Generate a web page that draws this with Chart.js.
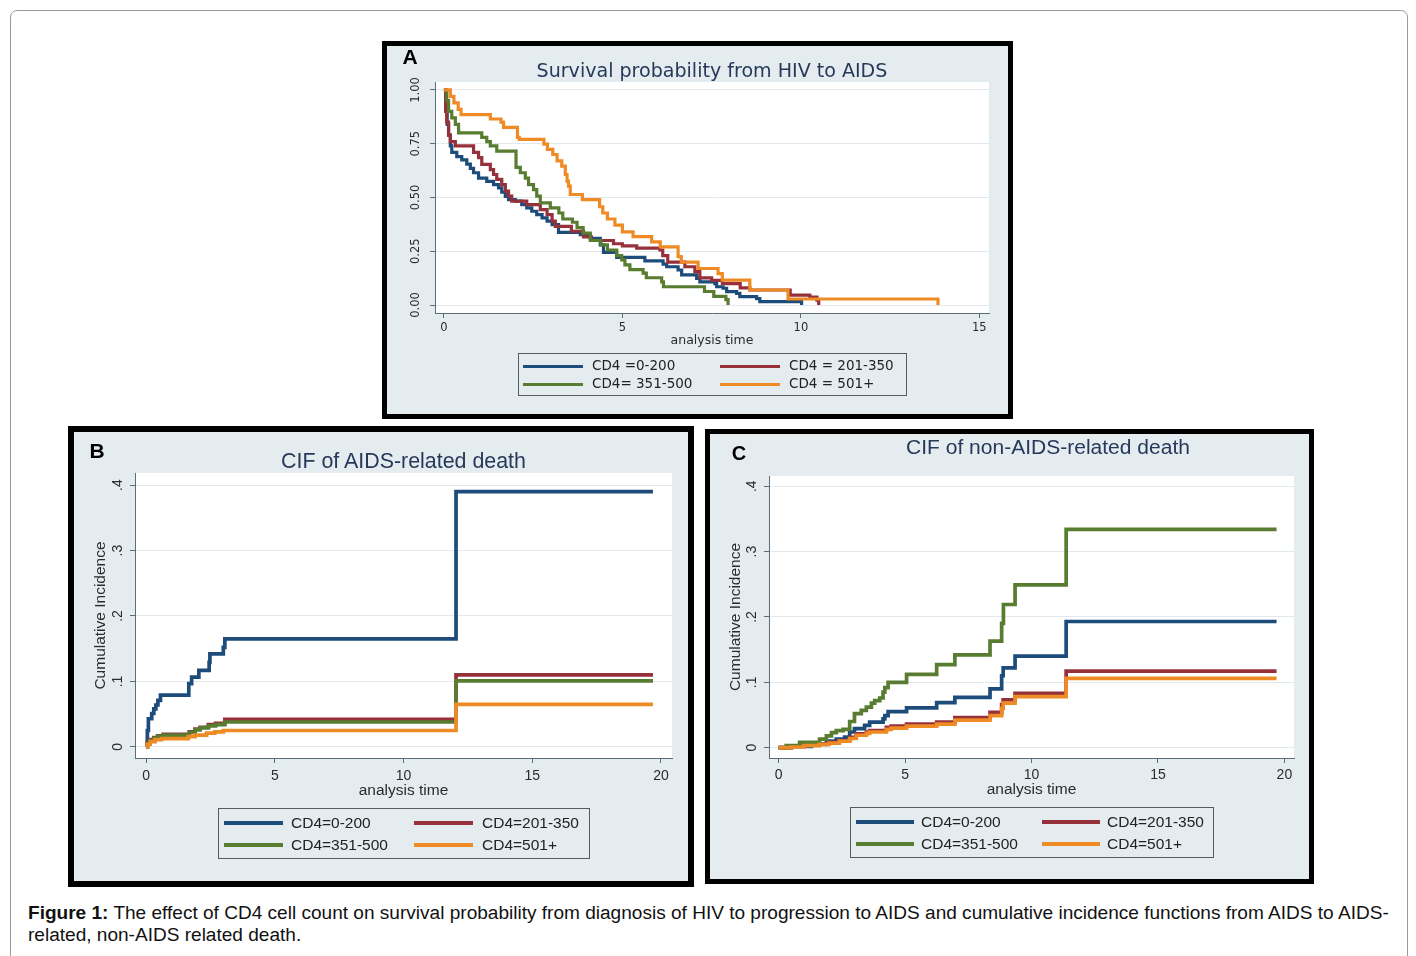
<!DOCTYPE html>
<html><head><meta charset="utf-8">
<script src="https://cdn.jsdelivr.net/npm/chart.js@4.4.1/dist/chart.umd.min.js"></script>
<style>
html,body{margin:0;padding:0;background:#fff;}
body{width:1416px;height:956px;overflow:hidden;position:relative;font-family:"Liberation Sans",Arial,sans-serif;}
.frame{position:absolute;left:10px;top:10px;width:1398px;height:970px;border:1px solid #9b9b9b;border-radius:7px;box-sizing:border-box;}
.panel{position:absolute;background:#e5ecf0;border:5px solid #000;box-sizing:border-box;}
.panel canvas{position:absolute;left:0;top:0;}
.abs{position:absolute;white-space:nowrap;}
.letter{font-weight:bold;color:#000;}
.ttl{color:#27395a;text-align:center;}
.leg{position:absolute;border:1px solid #5a5a5a;box-sizing:border-box;}
.cap{position:absolute;left:28px;top:902px;color:#111;font-size:17px;line-height:22px;white-space:nowrap;}
</style>
</head><body>
<div class="frame"></div>
<div id="pA" class="panel" style="left:382px;top:41px;width:631px;height:378px;"><canvas id="cA" width="621" height="368"></canvas></div>
<div id="pB" class="panel" style="left:68px;top:426px;width:626px;height:461px;border-width:6px;"><canvas id="cB" width="614" height="449"></canvas></div>
<div id="pC" class="panel" style="left:705px;top:429px;width:609px;height:455px;"><canvas id="cC" width="599" height="445"></canvas></div>
<div class="cap" id="cap"><span id="capl1"><b>Figure 1:</b> The effect of CD4 cell count on survival probability from diagnosis of HIV to progression to AIDS and cumulative incidence functions from AIDS to AIDS-</span><br>related, non-AIDS related death.</div>
<script>
// ---------------- DATA ----------------
const seriesLabelsA = ['CD4 =0-200', 'CD4 = 201-350', 'CD4= 351-500', 'CD4 = 501+'];
const seriesLabelsBC = ['CD4=0-200', 'CD4=201-350', 'CD4=351-500', 'CD4=501+'];

// Panel A: survival probability (Kaplan-Meier)
const aTime0200 = [0,0.05,0.09,0.13,0.18,0.22,0.36,0.5,0.64,0.74,0.83,0.97,1.2,1.39,1.53,1.62,1.72,1.81,2.0,2.18,2.32,2.46,2.6,2.75,2.89,3.03,3.21,3.82,4.1,4.38,4.47,4.84,5.63,6.14,6.24,6.56,6.66,7.08,7.17,7.59,7.64,7.82,7.92,8.2,8.29,8.76,8.85,10.02];
const aSurv0200 = [1,0.9,0.84,0.79,0.74,0.71,0.69,0.675,0.655,0.635,0.615,0.59,0.575,0.56,0.545,0.525,0.505,0.49,0.483,0.467,0.452,0.436,0.42,0.405,0.39,0.374,0.338,0.327,0.31,0.28,0.245,0.222,0.205,0.19,0.178,0.163,0.14,0.124,0.108,0.1,0.085,0.078,0.062,0.054,0.039,0.03,0.016,0];
const aTime201350 = [0,0.05,0.08,0.13,0.18,0.32,0.83,0.97,1.06,1.3,1.39,1.48,1.62,1.72,1.81,1.9,2.32,2.7,2.89,3.03,3.12,3.57,3.91,4.13,4.75,5.0,5.4,6.05,6.13,6.27,6.75,7.03,7.17,7.5,7.8,8.3,8.57,9.7,10.25,10.45,10.5];
const aSurv201350 = [1,0.9,0.85,0.79,0.76,0.74,0.71,0.685,0.654,0.63,0.607,0.584,0.56,0.53,0.506,0.483,0.467,0.444,0.42,0.39,0.366,0.343,0.317,0.30,0.285,0.275,0.265,0.256,0.23,0.2,0.178,0.155,0.126,0.115,0.1,0.08,0.07,0.046,0.037,0.023,0];
const aTime351500 = [0,0.08,0.13,0.22,0.32,0.41,1.06,1.2,1.3,1.48,2.02,2.14,2.28,2.37,2.51,2.6,2.7,2.98,3.22,3.33,3.6,3.73,3.9,4.1,4.4,4.58,4.84,4.98,5.07,5.21,5.58,5.67,6.1,6.15,7.3,7.56,7.9,7.96];
const aSurv351500 = [1,0.95,0.9,0.87,0.84,0.8,0.78,0.76,0.74,0.716,0.64,0.615,0.59,0.56,0.537,0.506,0.475,0.452,0.428,0.4,0.385,0.36,0.335,0.30,0.28,0.256,0.23,0.21,0.187,0.165,0.148,0.127,0.108,0.085,0.063,0.04,0.025,0];
const aTime501 = [0,0.18,0.28,0.4,0.48,1.3,1.6,1.67,2.06,2.11,2.8,2.9,3.05,3.17,3.3,3.4,3.45,3.49,3.54,3.88,4.36,4.45,4.58,4.79,5.0,5.3,5.82,6.06,6.56,6.65,7.12,7.68,7.8,8.57,9.64,13.84];
const aSurv501 = [1,0.97,0.94,0.91,0.885,0.865,0.85,0.826,0.78,0.77,0.748,0.724,0.70,0.67,0.646,0.607,0.576,0.553,0.514,0.49,0.457,0.428,0.40,0.372,0.34,0.318,0.294,0.27,0.225,0.2,0.17,0.146,0.116,0.07,0.028,0];

// Panel B: CIF of AIDS-related death
const bTime0200 = [0,0.05,0.09,0.22,0.3,0.38,0.46,0.56,1.66,1.77,2.05,2.45,2.48,3.0,3.06,12.04,19.69];
const bCif0200 = [0,0.025,0.043,0.051,0.058,0.064,0.071,0.079,0.0965,0.1065,0.117,0.129,0.142,0.152,0.165,0.39,0.39];
const bTime201350 = [0,0.05,0.15,0.3,0.45,0.67,1.68,1.9,2.1,2.42,2.7,3.06,12.04,19.69];
const bCif201350 = [0,0.006,0.011,0.014,0.017,0.019,0.023,0.027,0.03,0.034,0.036,0.042,0.11,0.11];
const bTime351500 = [0,0.05,0.15,0.3,0.45,0.67,1.68,1.9,2.1,2.42,2.7,3.06,12.04,19.69];
const bCif351500 = [0,0.005,0.01,0.013,0.016,0.018,0.022,0.026,0.029,0.032,0.034,0.038,0.101,0.101];
const bTime501 = [0,0.05,0.16,0.35,0.6,1.64,1.9,2.35,2.67,3.0,12.04,19.69];
const bCif501 = [0,0.004,0.008,0.011,0.0125,0.0157,0.018,0.021,0.023,0.025,0.065,0.065];

// Panel C: CIF of non-AIDS-related death
const cTime0200 = [0,0.5,1.3,1.89,2.28,2.61,2.81,3.0,3.4,3.6,4.13,4.2,4.33,5.06,6.25,6.97,8.36,8.82,8.88,9.35,11.37,19.69];
const cCif0200 = [0,0.002,0.005,0.01,0.013,0.016,0.024,0.029,0.034,0.039,0.044,0.049,0.055,0.061,0.069,0.077,0.09,0.11,0.122,0.14,0.193,0.193];
const cTime201350 = [0,0.5,1.0,1.6,2.0,2.4,2.81,3.07,3.47,3.6,4.26,4.45,5.06,6.25,6.97,8.36,8.82,8.88,9.35,11.37,19.69];
const cCif201350 = [0,0.002,0.004,0.006,0.008,0.011,0.0157,0.021,0.024,0.026,0.031,0.033,0.036,0.039,0.046,0.054,0.066,0.073,0.083,0.117,0.117];
const cTime351500 = [0,0.3,0.83,1.62,1.89,2.09,2.28,2.55,2.81,3.0,3.27,3.47,3.67,3.8,4.0,4.13,4.2,4.33,5.06,6.25,6.97,8.36,8.82,8.89,9.35,11.37,19.69];
const cCif351500 = [0,0.003,0.008,0.013,0.018,0.023,0.026,0.028,0.04,0.052,0.057,0.062,0.068,0.072,0.076,0.085,0.092,0.1,0.112,0.127,0.142,0.163,0.19,0.219,0.249,0.334,0.334];
const cTime501 = [0,0.5,1.0,1.6,2.0,2.4,2.81,3.07,3.47,3.6,4.26,4.45,5.06,6.25,6.97,8.36,8.82,8.88,9.35,11.37,19.69];
const cCif501 = [0,0.001,0.003,0.005,0.007,0.01,0.014,0.019,0.022,0.024,0.028,0.03,0.033,0.036,0.042,0.049,0.06,0.068,0.078,0.106,0.106];

// tick values
const xTicksA = [0, 5, 10, 15];
const yTicksA = [0, 0.25, 0.5, 0.75, 1];
const xTicksBC = [0, 5, 10, 15, 20];
const yTicksBC = [0, 0.1, 0.2, 0.3, 0.4];

// ---------------- STYLE ----------------
const colors = ['#1d4c7b', '#96303a', '#587c30', '#ee8b25'];
const axisCol = '#5e6b78';
const gridCol = '#e3e8ec';
const tickCol = '#2b2b2b';

function pts(t, v) { return t.map((x, i) => ({x: x, y: v[i]})); }
function measure(text, font) {
  const c = document.createElement('canvas').getContext('2d');
  c.font = font; return c.measureText(text).width;
}
const plotBg = {
  id: 'plotBg',
  beforeDraw(chart) {
    const {ctx, chartArea: a} = chart;
    ctx.save(); ctx.fillStyle = '#ffffff';
    ctx.fillRect(a.left, a.top, a.right - a.left, a.bottom - a.top);
    ctx.restore();
  }
};

function build(id, p) {
  const tf = p.tickSize + 'px "' + p.family + '"';
  const widest = Math.max(...p.yTicks.map(v => measure(p.yFmt(v), tf)));
  const yPad = p.yLabelOffset - 5 - widest / 2;
  const datasets = p.series.map((s, i) => ({
    label: s.label, data: pts(s.t, s.v), borderColor: colors[i], backgroundColor: colors[i],
    borderWidth: p.lw, pointRadius: 0, stepped: true, fill: false, order: 3 - i,
    borderCapStyle: 'butt', borderJoinStyle: 'miter'
  }));
  const yScale = {
    type: 'linear', bounds: 'data', min: p.yMin, max: p.yMax,
    afterBuildTicks: s => { s.ticks = p.yTicks.map(v => ({value: v})); },
    afterFit: s => { s.width = p.yW; },
    ticks: {font: {family: p.family, size: p.tickSize}, color: tickCol, padding: yPad,
      minRotation: 90, maxRotation: 90, crossAlign: 'center', autoSkip: false,
      callback: v => p.yFmt(v)},
    grid: {color: gridCol, tickColor: axisCol, tickLength: 5, lineWidth: 1},
    border: {display: true, color: axisCol, width: 1}
  };
  if (p.yTitle) {
    yScale.title = {display: true, text: p.yTitle, color: tickCol,
      font: {family: p.family, size: p.titleSize}, padding: {top: p.yTitlePad, bottom: 0}};
  }
  return new Chart(document.getElementById(id), {
    type: 'line',
    data: {datasets: datasets},
    options: {
      responsive: false, animation: false, events: [],
      layout: {padding: p.pad},
      plugins: {legend: {display: false}, title: {display: false}, tooltip: {enabled: false}},
      scales: {
        x: {
          type: 'linear', bounds: 'data', min: p.xMin, max: p.xMax,
          afterBuildTicks: s => { s.ticks = p.xTicks.map(v => ({value: v})); },
          afterFit: s => { s.height = p.xH; },
          ticks: {font: {family: p.family, size: p.tickSize}, color: tickCol, padding: p.xTickPad,
            maxRotation: 0, minRotation: 0, autoSkip: false, callback: v => String(v)},
          grid: {drawOnChartArea: false, tickLength: 5, tickColor: axisCol, lineWidth: 1},
          border: {display: true, color: axisCol, width: 1},
          title: {display: true, text: 'analysis time', color: tickCol,
            font: {family: p.family, size: p.titleSize}, padding: 0}
        },
        y: yScale
      }
    },
    plugins: [plotBg]
  });
}

build('cA', {
  family: 'DejaVu Sans', tickSize: 11.5, titleSize: 12.5, lw: 3.2,
  xMin: -0.25, xMax: 15.27, yMin: -0.037, yMax: 1.037,
  xTicks: xTicksA, yTicks: yTicksA, yFmt: v => v.toFixed(2),
  yW: 30, xH: 35, xTickPad: 3.1, yLabelOffset: 19,
  pad: {left: 18, right: 19, top: 36, bottom: 66},
  series: [
    {label: seriesLabelsA[0], t: aTime0200, v: aSurv0200},
    {label: seriesLabelsA[1], t: aTime201350, v: aSurv201350},
    {label: seriesLabelsA[2], t: aTime351500, v: aSurv351500},
    {label: seriesLabelsA[3], t: aTime501, v: aSurv501}
  ]
});
const fmtBC = v => v === 0 ? '0' : String(v).replace(/^0\./, '.');
build('cB', {
  family: 'Liberation Sans', tickSize: 14, titleSize: 15.5, lw: 3.7,
  xMin: -0.43, xMax: 20.43, yMin: -0.017, yMax: 0.4185,
  xTicks: xTicksBC, yTicks: yTicksBC, yFmt: fmtBC,
  yW: 45, xH: 42, xTickPad: 4.6, yLabelOffset: 17, yTitle: 'Cumulative Incidence', yTitlePad: 1.7,
  pad: {left: 16, right: 16, top: 41, bottom: 81},
  series: [
    {label: seriesLabelsBC[0], t: bTime0200, v: bCif0200},
    {label: seriesLabelsBC[1], t: bTime201350, v: bCif201350},
    {label: seriesLabelsBC[2], t: bTime351500, v: bCif351500},
    {label: seriesLabelsBC[3], t: bTime501, v: bCif501}
  ]
});
build('cC', {
  family: 'Liberation Sans', tickSize: 14, titleSize: 15.5, lw: 3.7,
  xMin: -0.38, xMax: 20.38, yMin: -0.0158, yMax: 0.4156,
  xTicks: xTicksBC, yTicks: yTicksBC, yFmt: fmtBC,
  yW: 45, xH: 41, xTickPad: 3.6, yLabelOffset: 17, yTitle: 'Cumulative Incidence', yTitlePad: 2.7,
  pad: {left: 14, right: 15, top: 42, bottom: 80},
  series: [
    {label: seriesLabelsBC[0], t: cTime0200, v: cCif0200},
    {label: seriesLabelsBC[1], t: cTime201350, v: cCif201350},
    {label: seriesLabelsBC[2], t: cTime351500, v: cCif351500},
    {label: seriesLabelsBC[3], t: cTime501, v: cCif501}
  ]
});

// ---------------- TEXT OVERLAYS ----------------
function addText(txt, cls, cx, cy, font, targetW) {
  const d = document.createElement('div');
  d.className = 'abs ' + cls;
  d.textContent = txt;
  d.style.font = font;
  document.body.appendChild(d);
  if (targetW) {
    const w = d.getBoundingClientRect().width;
    const size = parseFloat(d.style.fontSize);
    d.style.fontSize = (size * targetW / w).toFixed(2) + 'px';
  }
  const r = d.getBoundingClientRect();
  d.style.left = (cx - r.width / 2) + 'px';
  d.style.top = (cy - r.height / 2) + 'px';
  return d;
}
addText('A', 'letter', 410, 57, 'bold 21px "Liberation Sans"');
addText('B', 'letter', 97, 451, 'bold 21px "Liberation Sans"');
addText('C', 'letter', 739, 453, 'bold 20px "Liberation Sans"');
addText('Survival probability from HIV to AIDS', 'ttl', 712, 70, '18px "DejaVu Sans"', 351);
addText('CIF of AIDS-related death', 'ttl', 403.5, 461, '21px "Liberation Sans"', 245);
addText('CIF of non-AIDS-related death', 'ttl', 1048, 447, '21px "Liberation Sans"', 284);

function legend(cfg, labels) {
  const box = document.createElement('div');
  box.className = 'leg';
  box.style.left = cfg.left + 'px'; box.style.top = cfg.top + 'px';
  box.style.width = cfg.w + 'px'; box.style.height = cfg.h + 'px';
  document.body.appendChild(box);
  labels.forEach((lab, i) => {
    const row = Math.floor(i / 2), col = i % 2;
    const ln = document.createElement('div');
    ln.style.position = 'absolute';
    ln.style.left = cfg.lineX[col] + 'px';
    ln.style.top = (cfg.rows[row] - cfg.lw / 2) + 'px';
    ln.style.width = cfg.lineLen + 'px';
    ln.style.height = cfg.lw + 'px';
    ln.style.background = colors[i];
    document.body.appendChild(ln);
    const t = document.createElement('div');
    t.className = 'abs';
    t.style.font = cfg.font; t.style.color = '#222';
    t.style.lineHeight = '1';
    t.textContent = lab;
    document.body.appendChild(t);
    const r = t.getBoundingClientRect();
    t.style.left = cfg.textX[col] + 'px';
    t.style.top = (cfg.rows[row] - r.height / 2) + 'px';
  });
}
legend({left: 518, top: 353, w: 389, h: 43, rows: [366, 384], lineX: [523, 720], lineLen: 60, textX: [592, 789], lw: 3, font: '13.5px "DejaVu Sans"'}, seriesLabelsA);
legend({left: 218, top: 808, w: 372, h: 51, rows: [823, 845], lineX: [224, 414], lineLen: 59, textX: [291, 482], lw: 3.5, font: '15.5px "Liberation Sans"'}, seriesLabelsBC);
legend({left: 850, top: 807, w: 364, h: 51, rows: [822, 844], lineX: [856, 1042], lineLen: 58, textX: [921, 1107], lw: 3.5, font: '15.5px "Liberation Sans"'}, seriesLabelsBC);

// caption fit: first line spans x 28..1390
(function () {
  const l1 = document.getElementById('capl1');
  const w = l1.getBoundingClientRect().width;
  document.getElementById('cap').style.fontSize = (17 * 1362 / w).toFixed(2) + 'px';
})();
</script>
</body></html>
